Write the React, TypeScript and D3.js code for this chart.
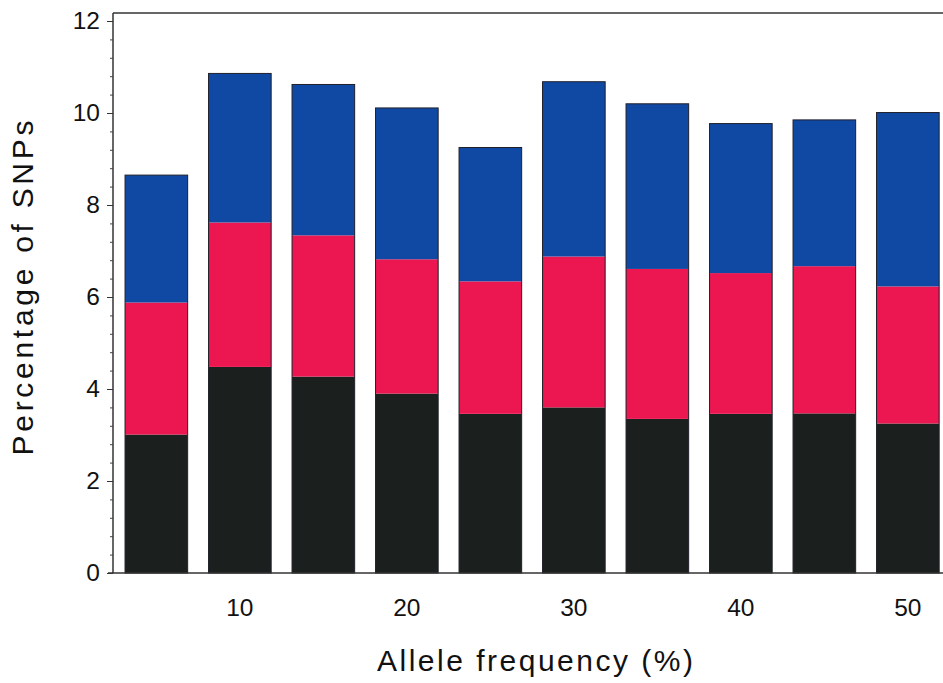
import * as d3 from "d3";
import { useEffect, useRef } from "react";

// allele frequency bins (%)
const bins = [5, 10, 15, 20, 25, 30, 35, 40, 45, 50];
// stacked segment heights, bottom to top (percentage of SNPs)
const blackSeg = [3.01, 4.48, 4.27, 3.9, 3.46, 3.6, 3.35, 3.46, 3.47, 3.25];
const redSeg = [2.87, 3.14, 3.07, 2.92, 2.88, 3.28, 3.26, 3.06, 3.2, 2.98];
const blueSeg = [2.77, 3.24, 3.28, 3.29, 2.91, 3.8, 3.59, 3.25, 3.18, 3.78];
const yTicks = [0, 2, 4, 6, 8, 10, 12];
const xLabelled = [10, 20, 30, 40, 50];

const keys = ["black", "red", "blue"];
const colors: Record<string, string> = { black: "#1b201f", red: "#ec1651", blue: "#1049a4" };
const font = "'Liberation Sans', Arial, sans-serif";

export default function App() {
  const width = 943;
  const height = 683;
  const left = 113;
  const top = 13;
  const bottom = 573;

  const gx = useRef<SVGGElement>(null);
  const gy = useRef<SVGGElement>(null);
  const gyMinor = useRef<SVGGElement>(null);

  const rows = bins.map((b, i) => ({ bin: b, black: blackSeg[i], red: redSeg[i], blue: blueSeg[i] }));
  const series = d3.stack<any>().keys(keys)(rows);

  const x = d3
    .scaleBand<number>()
    .domain(bins)
    .range([left + 1.6, left + 836.6])
    .paddingInner(0.25)
    .paddingOuter(0.125);
  const y = d3.scaleLinear([0, 12], [bottom, bottom - 46 * 12]);

  useEffect(() => {
    if (gy.current) {
      const g = d3.select(gy.current);
      g.call(d3.axisLeft(y).tickValues(yTicks).tickSize(6).tickPadding(7).tickFormat(d3.format("d")));
      g.select(".domain").remove();
      g.selectAll("line").attr("stroke", "#333");
      g.selectAll("text").attr("font-size", 24.5).attr("font-family", font).attr("fill", "#111");
    }
    if (gyMinor.current) {
      const g = d3.select(gyMinor.current);
      g.call(d3.axisLeft(y).tickValues(d3.range(0, 12.01, 0.4)).tickSize(3).tickFormat(() => ""));
      g.select(".domain").remove();
      g.selectAll("line").attr("stroke", "#444");
    }
    if (gx.current) {
      const g = d3.select(gx.current);
      g.call(d3.axisBottom(x).tickValues(xLabelled).tickSize(0).tickPadding(26));
      g.select(".domain").remove();
      g.selectAll("text").attr("font-size", 24.5).attr("font-family", font).attr("fill", "#111");
    }
  }, [x, y]);

  return (
    <svg width={width} height={height} style={{ position: "absolute", left: 0, top: 0, background: "#fff" }}>
      {series.map((s) => (
        <g key={s.key} fill={colors[s.key]}>
          {s.map((d, i) => (
            <rect key={i} x={x(bins[i])} y={y(d[1])} width={x.bandwidth()} height={y(d[0]) - y(d[1])} />
          ))}
        </g>
      ))}
      <g fill="none" stroke="#20202a" strokeWidth={1}>
        {rows.map((r, i) => (
          <rect key={i} x={x(r.bin)} y={y(r.black + r.red + r.blue)} width={x.bandwidth()}
            height={bottom - y(r.black + r.red + r.blue)} />
        ))}
      </g>
      <line x1={left} x2={width} y1={top} y2={top} stroke="#333" strokeWidth={1.5} />
      <line x1={left} x2={left} y1={top} y2={bottom} stroke="#333" strokeWidth={1.5} />
      <line x1={left - 5} x2={width} y1={bottom} y2={bottom} stroke="#333" strokeWidth={1.5} />
      <g ref={gyMinor} transform={`translate(${left},0)`} />
      <g ref={gy} transform={`translate(${left},0)`} />
      <g ref={gx} transform={`translate(0,${bottom})`} />
      <text x={535} y={671} textAnchor="middle" fontFamily={font} fontSize={30} fill="#111"
        textLength={316} lengthAdjust="spacing">
        Allele frequency (%)
      </text>
      <text transform="translate(33,288) rotate(-90)" textAnchor="middle" fontFamily={font} fontSize={30}
        fill="#111" textLength={335} lengthAdjust="spacing">
        Percentage of SNPs
      </text>
    </svg>
  );
}
